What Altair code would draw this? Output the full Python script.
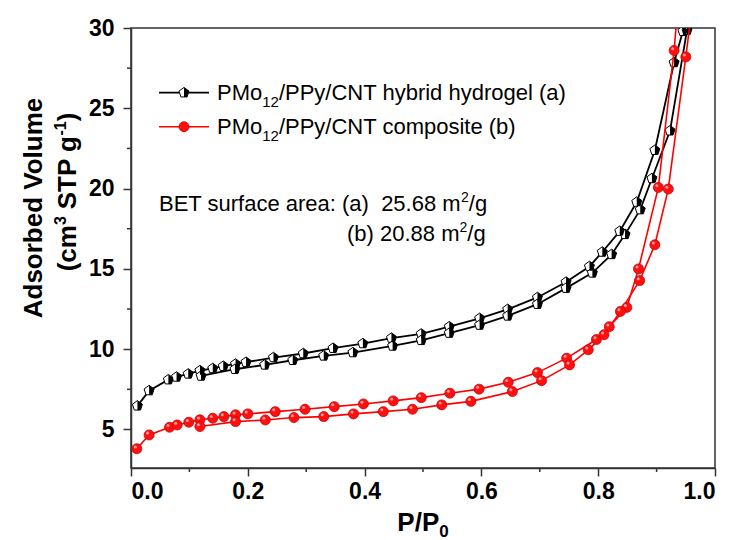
import altair as alt
import pandas as pd

# ---------------- data ----------------
# PMo12/PPy/CNT hybrid hydrogel (a) - adsorption branch (in measured order)
hyd_ads_x = [0.011, 0.031, 0.064, 0.078, 0.098, 0.118, 0.140, 0.158, 0.179, 0.197, 0.244, 0.295,
             0.346, 0.397, 0.446, 0.497, 0.545, 0.597, 0.645, 0.696, 0.745, 0.785, 0.807, 0.837,
             0.866, 0.897, 0.930, 0.945, 0.955]
hyd_ads_y = [6.47, 7.42, 8.10, 8.27, 8.46, 8.67, 8.80, 8.94, 9.08, 9.19, 9.48, 9.73,
             10.06, 10.35, 10.69, 10.95, 11.40, 11.92, 12.48, 13.22, 14.18, 15.15, 16.05, 17.35,
             19.16, 22.39, 27.85, 29.80, 32.0]
# hybrid hydrogel - desorption branch
hyd_des_x = [0.965, 0.952, 0.923, 0.892, 0.872, 0.846, 0.823, 0.790, 0.745, 0.696, 0.645, 0.597,
             0.545, 0.497, 0.448, 0.380, 0.330, 0.277, 0.229, 0.178, 0.120]
hyd_des_y = [32.0, 29.85, 23.60, 20.63, 18.69, 17.15, 15.90, 14.75, 13.80, 12.80, 12.07, 11.50,
             11.00, 10.55, 10.20, 9.79, 9.58, 9.31, 9.02, 8.75, 8.33]
# PMo12/PPy/CNT composite (b) - adsorption branch
com_ads_x = [0.010, 0.031, 0.066, 0.079, 0.099, 0.118, 0.140, 0.159, 0.179, 0.200, 0.247, 0.298,
             0.348, 0.398, 0.449, 0.497, 0.546, 0.596, 0.646, 0.696, 0.746, 0.797, 0.819, 0.849,
             0.869, 0.903, 0.930, 0.940]
com_ads_y = [3.80, 4.66, 5.14, 5.28, 5.45, 5.60, 5.70, 5.80, 5.91, 5.97, 6.11, 6.26,
             6.42, 6.59, 6.78, 6.98, 7.26, 7.51, 7.94, 8.54, 9.44, 10.60, 11.40, 12.60,
             15.00, 20.07, 28.60, 33.0]
# composite - desorption branch
com_des_x = [0.965, 0.950, 0.920, 0.897, 0.871, 0.838, 0.810, 0.783, 0.751, 0.703, 0.653, 0.582,
             0.532, 0.482, 0.432, 0.381, 0.330, 0.279, 0.230, 0.179, 0.118]
com_des_y = [32.5, 28.20, 19.97, 16.50, 14.27, 12.35, 10.90, 9.96, 9.02, 8.04, 7.36, 6.75,
             6.53, 6.26, 6.11, 5.97, 5.80, 5.74, 5.59, 5.49, 5.18]

x_ticks = [0.0, 0.2, 0.4, 0.6, 0.8, 1.0]
x_minor = [0.1, 0.3, 0.5, 0.7, 0.9]
y_ticks = [5, 10, 15, 20, 25, 30]
y_minor = [7.5, 12.5, 17.5, 22.5, 27.5]
x_domain = [0.0, 1.0]
y_domain = [2.6, 30.0]

NB = "\u00a0"
legend_a = "/PPy/CNT hybrid hydrogel (a)"
legend_b = "/PPy/CNT composite (b)"
bet_a = "BET surface area: (a) " + NB + "25.68 m"
bet_b = "(b) 20.88 m"

# ---------------- layout ----------------
W, H = 584, 440
X0, Y0 = 131, 28
FONT = "Liberation Sans"
BLACK = "#000000"
RED = "#ff0000"
FRAME = "#333333"

PENT = "M0,-1L0.951,-0.309L0.588,0.809L-0.588,0.809L-0.951,-0.309Z"
HALF = "M0,-1L0.951,-0.309L0.588,0.809L0,0.809Z"

REG = {" ": 278, NB: 278, "(": 333, ")": 333, "/": 278, ":": 278, ".": 278, "-": 333,
       "A": 667, "B": 667, "C": 722, "E": 667, "M": 833, "N": 722, "P": 667, "S": 667,
       "T": 611, "V": 667, "a": 556, "b": 556, "c": 500, "d": 556, "e": 556, "f": 278,
       "g": 556, "h": 556, "i": 222, "l": 222, "m": 833, "n": 556, "o": 556, "p": 556,
       "r": 333, "s": 500, "t": 278, "u": 556, "y": 500}
BOLD = {" ": 278, NB: 278, "(": 333, ")": 333, "/": 278, ".": 278, "-": 333, "A": 722, "P": 667,
        "S": 667, "T": 611, "V": 667, "b": 611, "c": 556, "d": 611, "e": 556, "g": 611,
        "l": 278, "m": 889, "o": 611, "r": 389, "s": 556, "u": 611}


def tw(s, size, bold=False):
    t = BOLD if bold else REG
    return sum(t.get(c, 556) for c in s) * size / 1000.0


one = alt.Data(values=[{"k": 1}])


def label(text, px, py, size, bold=False, angle=0, align="left"):
    return alt.Chart(one).mark_text(
        text=text, font=FONT, fontSize=size, fontWeight="bold" if bold else "normal",
        angle=angle, align=align, baseline="alphabetic", color=BLACK
    ).encode(x=alt.value(px - X0), y=alt.value(py - Y0))


def rich(segments, px, py, bold=False, angle=0, center=False):
    # segment: (text, font size, baseline shift up, gap before in px)
    total = sum(tw(t, s, bold) + g for t, s, _, g in segments)
    pos = -total / 2 if center else 0.0
    out = []
    for text, size, shift, gap in segments:
        pos += gap
        if angle == 0:
            out.append(label(text, px + pos, py - shift, size, bold))
        else:
            out.append(label(text, px - shift, py - pos, size, bold, angle=270))
        pos += tw(text, size, bold)
    return out


# ---------------- data frames ----------------
def frame(xs, ys, branch):
    return pd.DataFrame({"x": xs, "y": ys, "branch": branch, "i": list(range(len(xs)))})


hyd = pd.concat([frame(hyd_ads_x, hyd_ads_y, "ads"), frame(hyd_des_x, hyd_des_y, "des")])
com = pd.concat([frame(com_ads_x, com_ads_y, "ads"), frame(com_des_x, com_des_y, "des")])

axis_style = dict(grid=False, title=None, tickSize=8, labelFont=FONT, labelFontWeight="bold",
                  labelFontSize=23, labelColor=BLACK, domainColor=FRAME, domainWidth=1.5,
                  tickColor=FRAME, tickWidth=1.5)
X = alt.X("x:Q", scale=alt.Scale(domain=x_domain, nice=False, zero=False),
          axis=alt.Axis(values=x_ticks, format=".1f", labelPadding=4, **axis_style))
Y = alt.Y("y:Q", scale=alt.Scale(domain=y_domain, nice=False, zero=False),
          axis=alt.Axis(values=y_ticks, format="d", labelPadding=9, **axis_style))

hyd_line = alt.Chart(hyd).mark_line(color=BLACK, strokeWidth=1.8, clip=True).encode(
    x=X, y=Y, detail="branch:N", order="i:Q")
hyd_pt = alt.Chart(hyd).mark_point(shape=PENT, filled=True, fill="white", stroke=BLACK,
                                   strokeWidth=1, size=110, opacity=1, clip=True).encode(x=X, y=Y)
hyd_half = alt.Chart(hyd).mark_point(shape=HALF, filled=True, fill=BLACK, strokeWidth=0,
                                     size=110, opacity=1, clip=True).encode(x=X, y=Y)
com_line = alt.Chart(com).mark_line(color=RED, strokeWidth=1.6, clip=True).encode(
    x=X, y=Y, detail="branch:N", order="i:Q")
com_pt = alt.Chart(com).mark_point(shape="circle", filled=True, fill="#ff1010", stroke="#d00000",
                                   strokeWidth=0.8, size=100, opacity=1, clip=True).encode(x=X, y=Y)
com_hi = alt.Chart(com).mark_point(shape="circle", filled=True, fill="#ff9a9a", strokeWidth=0,
                                   size=9, opacity=1, clip=True, xOffset=-1.5, yOffset=-1.8).encode(x=X, y=Y)

xm = alt.Chart(pd.DataFrame({"x": x_minor})).mark_rule(color=FRAME, strokeWidth=1.5).encode(
    x=X, y=alt.value(H), y2=alt.value(H + 4))
ym = alt.Chart(pd.DataFrame({"y": y_minor})).mark_rule(color=FRAME, strokeWidth=1.5).encode(
    y=Y, x=alt.value(0), x2=alt.value(-4))

# legend
leg = [
    alt.Chart(one).mark_rule(color=BLACK, strokeWidth=1.8).encode(
        x=alt.value(159 - X0), x2=alt.value(209 - X0), y=alt.value(92.7 - Y0)),
    alt.Chart(one).mark_point(shape=PENT, filled=True, fill="white", stroke=BLACK, strokeWidth=1,
                              size=110, opacity=1).encode(x=alt.value(184 - X0), y=alt.value(92.7 - Y0)),
    alt.Chart(one).mark_point(shape=HALF, filled=True, fill=BLACK, strokeWidth=0,
                              size=110, opacity=1).encode(x=alt.value(184 - X0), y=alt.value(92.7 - Y0)),
    alt.Chart(one).mark_rule(color=RED, strokeWidth=1.6).encode(
        x=alt.value(159 - X0), x2=alt.value(209 - X0), y=alt.value(126.7 - Y0)),
    alt.Chart(one).mark_point(shape="circle", filled=True, fill="#ff1010", stroke="#d00000",
                              strokeWidth=0.8, size=100, opacity=1).encode(
        x=alt.value(184 - X0), y=alt.value(126.7 - Y0)),
]

texts = []
texts += rich([("PMo", 22, 0, 0), ("12", 15, -7, 0), (legend_a, 22, 0, 0)], 217, 100)
texts += rich([("PMo", 22, 0, 0), ("12", 15, -7, 0), (legend_b, 22, 0, 0)], 217, 134)
texts += rich([(bet_a, 22, 0, 0), ("2", 14, 9, 0), ("/g", 22, 0, 0)], 159, 211)
texts += rich([(bet_b, 22, 0, 0), ("2", 14, 9, 0), ("/g", 22, 0, 0)], 347, 241)
# axis titles
texts += rich([("P/P", 26, 0, 0), ("0", 17, -6, 0)], 423, 531, bold=True, center=True)
texts.append(label("Adsorbed Volume", 42, 208, 26, bold=True, angle=270, align="center"))
texts += rich([("(cm", 26, 0, 0), ("3", 16, 10, 0), ("STP g", 26, 0, 7), ("-1", 16, 10, 0),
               (")", 26, 0, 0)],
              76, 192, bold=True, angle=270, center=True)

chart = alt.layer(
    xm, ym, hyd_line, hyd_pt, hyd_half, com_line, com_pt, com_hi, *leg, *texts
).properties(
    width=W, height=H,
    background="white",
    autosize=alt.AutoSizeParams(type="none"),
    padding={"left": X0, "top": Y0, "right": 739 - X0 - W, "bottom": 540 - Y0 - H},
).configure_view(
    stroke=FRAME, strokeWidth=1.5
)

chart.save("out.html", embed_options={"renderer": "svg", "actions": False})
